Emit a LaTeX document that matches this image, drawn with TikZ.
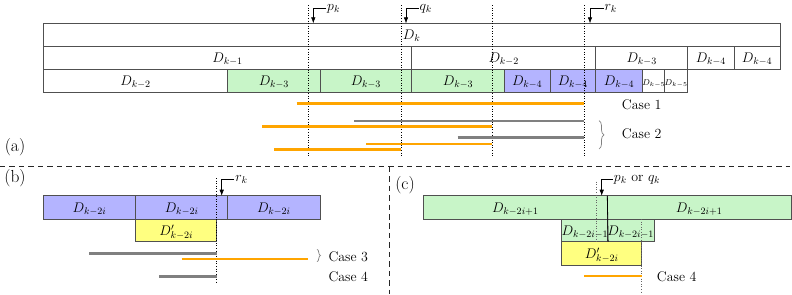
\documentclass[tikz,border=0pt]{standalone}
\usepackage{fix-cm}
\usetikzlibrary{arrows.meta,decorations.pathreplacing}
\definecolor{cgreen}{RGB}{200,245,200}
\definecolor{cblue}{RGB}{180,180,255}
\definecolor{cyellow}{RGB}{255,255,128}
\definecolor{corange}{RGB}{255,165,0}
\definecolor{cgray}{RGB}{128,128,128}
\definecolor{cborder}{RGB}{80,80,80}
\newcommand\mybox[7]{%
  \node[cell, fill=#6, minimum width={(#4-#2)*1bp}, minimum height={(#5-#3)*1bp},
        anchor=north west] (#1) at (#2,#3) {#7};}
\newcommand\smallsz{\fontsize{8.5}{10}\selectfont}
\begin{document}
\begin{tikzpicture}[x=1bp,y=-1bp,
  every node/.style={font=\fontsize{14}{16}\selectfont},
  cell/.style={draw=cborder, line width=0.8pt, inner sep=0pt, outer sep=0pt,
               text height=9.6pt, text depth=0pt},
  panel/.style={font=\fontsize{17.5}{20}\selectfont},
  vdot/.style={dotted, line width=0.6pt, black},
  sep/.style={dash pattern=on 5.5pt off 4pt, line width=0.8pt, black!85},
  arr/.style={line width=0.6pt, black, -{Latex[length=6pt,width=4.5pt]}},
  lab/.style={inner sep=1pt, anchor=west},
  oline/.style={corange, line width=2.6pt},
  gline/.style={cgray, line width=2.6pt},
  brc/.style={decorate, decoration={brace, amplitude=#1}, cgray, line width=0.7pt}
]
\useasboundingbox (0,0) rectangle (792,294);

% ---------------- panel (a)
\mybox{dk}{43.3}{23.3}{780}{46}{white}{$D_k$}
\mybox{am1}{43.3}{46}{411.7}{69.3}{white}{$D_{k-1}$}
\mybox{am2}{411.7}{46}{595.7}{69.3}{white}{$D_{k-2}$}
\mybox{am3}{595.7}{46}{687.7}{69.3}{white}{$D_{k-3}$}
\mybox{am4}{687.7}{46}{734}{69.3}{white}{$D_{k-4}$}
\mybox{am5}{734}{46}{780}{69.3}{white}{$D_{k-4}$}
\mybox{an1}{43.3}{69.3}{227.7}{92}{white}{$D_{k-2}$}
\mybox{an2}{227.7}{69.3}{320}{92}{cgreen}{$D_{k-3}$}
\mybox{an3}{320}{69.3}{411.7}{92}{cgreen}{$D_{k-3}$}
\mybox{an4}{411.7}{69.3}{504.3}{92}{cgreen}{$D_{k-3}$}
\mybox{an5}{504.3}{69.3}{550}{92}{cblue}{$D_{k-4}$}
\mybox{an6}{550}{69.3}{595.7}{92}{cblue}{$D_{k-4}$}
\mybox{an7}{595.7}{69.3}{642.3}{92}{cblue}{$D_{k-4}$}
\mybox{an8}{642.3}{69.3}{664.7}{92}{white}{\smallsz$D_{k-5}$}
\mybox{an9}{664.7}{69.3}{687.7}{92}{white}{\smallsz$D_{k-5}$}

\coordinate (pT) at (308.3,5);   \coordinate (pB) at (308.3,157);
\coordinate (qT) at (401,5);     \coordinate (qB) at (401,157);
\coordinate (mT) at (492.3,5);   \coordinate (mB) at (492.3,157);
\coordinate (rT) at (584.3,5);   \coordinate (rB) at (584.3,157);
\draw[vdot] (pT) -- (pB);
\draw[vdot] (qT) -- (qB);
\draw[vdot] (mT) -- (mB);
\draw[vdot] (rT) -- (rB);

\node[lab] (pk) at (326,8.5) {$p_k$};
\node[lab] (qk) at (418.5,8.5) {$q_k$};
\node[lab] (rk) at (603.5,8.5) {$r_k$};
\coordinate (pkA) at (313.3,23.3);
\coordinate (qkA) at (406,23.3);
\coordinate (rkA) at (590,23.3);
\draw[arr] (pk.west) -| (pkA);
\draw[arr] (qk.west) -| (qkA);
\draw[arr] (rk.west) -| (rkA);

\coordinate (a1s) at (296.7,103.7); \coordinate (a1e) at (584.3,103.7);
\coordinate (a2s) at (354.3,121);   \coordinate (a2e) at (584.3,121);
\coordinate (a3s) at (262.3,126.7); \coordinate (a3e) at (492.3,126.7);
\coordinate (a4s) at (457.7,137.7); \coordinate (a4e) at (584.3,137.7);
\coordinate (a5s) at (366,144);     \coordinate (a5e) at (492.3,144);
\coordinate (a6s) at (274,149.7);   \coordinate (a6e) at (401,149.7);
\draw[oline] (a1s) -- (a1e);
\draw[gline] (a2s) -- (a2e);
\draw[oline] (a3s) -- (a3e);
\draw[gline] (a4s) -- (a4e);
\draw[oline] (a5s) -- (a5e);
\draw[oline] (a6s) -- (a6e);

\node (case1) at (641.7,104.3) {Case 1};
\node (case2) at (641.7,133.3) {Case 2};
\coordinate (bra1) at (599,120.7); \coordinate (bra2) at (599,149);
\draw[brc=5pt] (bra1) -- (bra2);
\node[panel] (pa) at (15,146.7) {(a)};

% ---------------- separators
\coordinate (s1) at (0,166.7); \coordinate (s2) at (790,166.7);
\coordinate (s3) at (389.3,166.7); \coordinate (s4) at (389.3,294);
\draw[sep] (s1) -- (s2);
\draw[sep] (s3) -- (s4);

% ---------------- panel (b)
\node[panel] (pb) at (15,178.3) {(b)};
\mybox{b1}{43.3}{195.7}{135.7}{219}{cblue}{$D_{k-2i}$}
\mybox{b2}{135.7}{195.7}{227.7}{219}{cblue}{$D_{k-2i}$}
\mybox{b3}{227.7}{195.7}{320}{219}{cblue}{$D_{k-2i}$}
\mybox{b4}{135.7}{219}{216.7}{241.7}{cyellow}{$D'_{k-2i}$}
\coordinate (bdT) at (216.7,178); \coordinate (bdB) at (216.7,283.3);
\draw[vdot] (bdT) -- (bdB);
\node[lab] (rkb) at (234.3,179.5) {$r_k$};
\coordinate (rkbA) at (221.7,195.7);
\draw[arr] (rkb.west) -| (rkbA);
\coordinate (b1s) at (89.3,253.3);  \coordinate (b1e) at (216.7,253.3);
\coordinate (b2s) at (181.7,259);   \coordinate (b2e) at (308.3,259);
\coordinate (b3s) at (159,276.3);   \coordinate (b3e) at (216.7,276.3);
\draw[gline] (b1s) -- (b1e);
\draw[oline] (b2s) -- (b2e);
\draw[gline] (b3s) -- (b3e);
\coordinate (brb1) at (317,249.3); \coordinate (brb2) at (317,261.7);
\draw[brc=3.5pt] (brb1) -- (brb2);
\node (case3) at (348.3,256.7) {Case 3};
\node (case4b) at (348.3,276.7) {Case 4};

% ---------------- panel (c)
\node[panel] (pc) at (405,185) {(c)};
\mybox{c1}{423.3}{195.7}{607.3}{219}{cgreen}{$D_{k-2i+1}$}
\mybox{c2}{607.3}{195.7}{791}{219}{cgreen}{$D_{k-2i+1}$}
\mybox{c3}{561.7}{219}{607.3}{241.7}{cgreen}{$D_{k-2i-1}$}
\mybox{c4}{607.3}{219}{654}{241.7}{cgreen}{$D_{k-2i-1}$}
\mybox{c5}{561.7}{241.7}{641.7}{265}{cyellow}{$D'_{k-2i}$}
\draw[line width=0.8pt, black] (c1.north east) -- (c3.south east);
\coordinate (cd1T) at (596,181.7); \coordinate (cd1B) at (596,241.7);
\coordinate (cd2T) at (641.7,219); \coordinate (cd2B) at (641.7,291.7);
\draw[vdot, black!60] (cd1T) -- (cd1B);
\draw[vdot, black!60] (cd2T) -- (cd2B);
\node[lab] (pqk) at (612.7,179.5) {$p_k$ or $q_k$};
\coordinate (pqkA) at (601.7,195.7);
\draw[arr] (pqk.west) -| (pqkA);
\coordinate (c1s) at (584.3,276); \coordinate (c1e) at (641.7,276);
\draw[oline] (c1s) -- (c1e);
\node (case4c) at (676.7,276.7) {Case 4};
\end{tikzpicture}
\end{document}
